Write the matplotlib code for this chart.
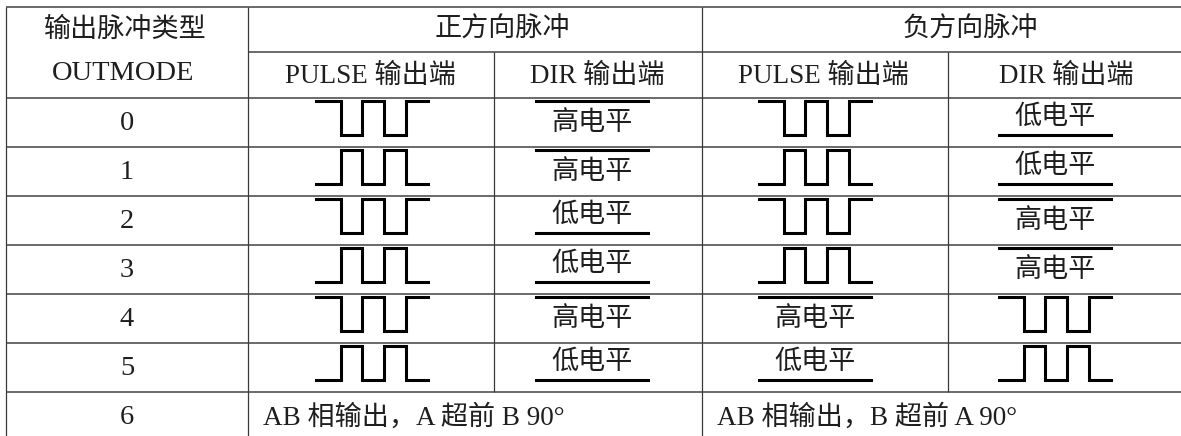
import matplotlib.pyplot as plt

plt.rcParams['font.family'] = ['Liberation Serif', 'Noto Sans CJK SC']

# table content
modes = ['0', '1', '2', '3', '4', '5']
# cell codes: PH = pulse train starting high, PL = starting low,
#             HI = 高电平 (line above), LO = 低电平 (line below)
pos_pulse = ['PH', 'PL', 'PH', 'PL', 'PH', 'PL']
pos_dir = ['HI', 'HI', 'LO', 'LO', 'HI', 'LO']
neg_pulse = ['PH', 'PL', 'PH', 'PL', 'HI', 'LO']
neg_dir = ['LO', 'LO', 'HI', 'HI', 'PH', 'PL']
level_text = {'HI': '高电平', 'LO': '低电平'}

head_main = ['输出脉冲类型', '正方向脉冲', '负方向脉冲']
head_sub = ['PULSE 输出端', 'DIR 输出端', 'PULSE 输出端', 'DIR 输出端']
last_mode = '6'
last_text = ['AB 相输出，A 超前 B 90°', 'AB 相输出，B 超前 A 90°']

# pulse shape: edges as fraction of width, levels for a train starting high
pulse_edges = [0, 0.22, 0.41, 0.61, 0.80, 1.0]
pulse_high = [1, 0, 1, 0, 1]

# layout (pixels)
W, H = 1181, 436
col_x = [6, 248, 494, 702, 948, W]
row_y = [98, 147, 196, 245, 294, 343, 392]
top, mid = 7, 52
cell_cx = [372, 592, 815, 1055]
wave_w = 112
amp = 34

fig = plt.figure(figsize=(W / 100, H / 100), dpi=100)
ax = fig.add_axes([0, 0, 1, 1])
ax.set_xlim(0, W)
ax.set_ylim(H, 0)
ax.axis('off')

hc = '#6a6a6a'
vc = '#3a3a3a'
tc = '#1e1e1e'
fs = 19.5     # CJK / mixed text
fs_lat = 20.5  # pure latin text

# grid lines
ax.hlines([top] + row_y, col_x[0], W, color=hc, lw=1.4)
ax.hlines(mid, col_x[1], W, color=hc, lw=1.4)
ax.vlines([col_x[0], col_x[1], col_x[3]], top, H, color=vc, lw=0.9)
ax.vlines([col_x[2], col_x[4]], mid, row_y[-1], color=vc, lw=0.9)

# headers
ax.text(125, 30, head_main[0], ha='center', va='center', fontsize=fs, color=tc)
ax.text(123, 74, 'OUTMODE', ha='center', va='center', fontsize=fs_lat, color=tc)
ax.text(502, 30, head_main[1], ha='center', va='center', fontsize=fs, color=tc)
ax.text(970, 30, head_main[2], ha='center', va='center', fontsize=fs, color=tc)
sub_cx = [370, 597, 823, 1066]
for x, s in zip(sub_cx, head_sub):
    ax.text(x, 76, s, ha='center', va='center', fontsize=fs, color=tc)


def draw_cell(code, cx, y0):
    x0 = cx - wave_w / 2
    if code in ('PH', 'PL'):
        lv = pulse_high if code == 'PH' else [1 - v for v in pulse_high]
        xs = [x0 + e * wave_w for e in pulse_edges]
        ys = [y0 + 3 + amp * (1 - v) for v in lv + [lv[-1]]]
        ax.plot(xs, ys, drawstyle='steps-post', color='black', lw=2.2,
                solid_joinstyle='miter')
    else:
        ly = y0 + 3 if code == 'HI' else y0 + 37
        ty = y0 + 25 if code == 'HI' else y0 + 19
        ax.plot([x0, x0 + wave_w], [ly, ly], color='black', lw=2.2)
        ax.text(cx, ty, level_text[code], ha='center', va='center',
                fontsize=fs, color=tc)


for i, m in enumerate(modes):
    y0 = row_y[i]
    ax.text(127, y0 + 25, m, ha='center', va='center', fontsize=fs_lat, color=tc)
    for j, col in enumerate([pos_pulse, pos_dir, neg_pulse, neg_dir]):
        draw_cell(col[i], cell_cx[j], y0)

# last row
y6 = row_y[-1] + 25
ax.text(127, y6, last_mode, ha='center', va='center', fontsize=fs_lat, color=tc)
ax.text(263, y6, last_text[0], ha='left', va='center', fontsize=fs, color=tc)
ax.text(717, y6, last_text[1], ha='left', va='center', fontsize=fs, color=tc)

fig.savefig('out.png', dpi=100)
